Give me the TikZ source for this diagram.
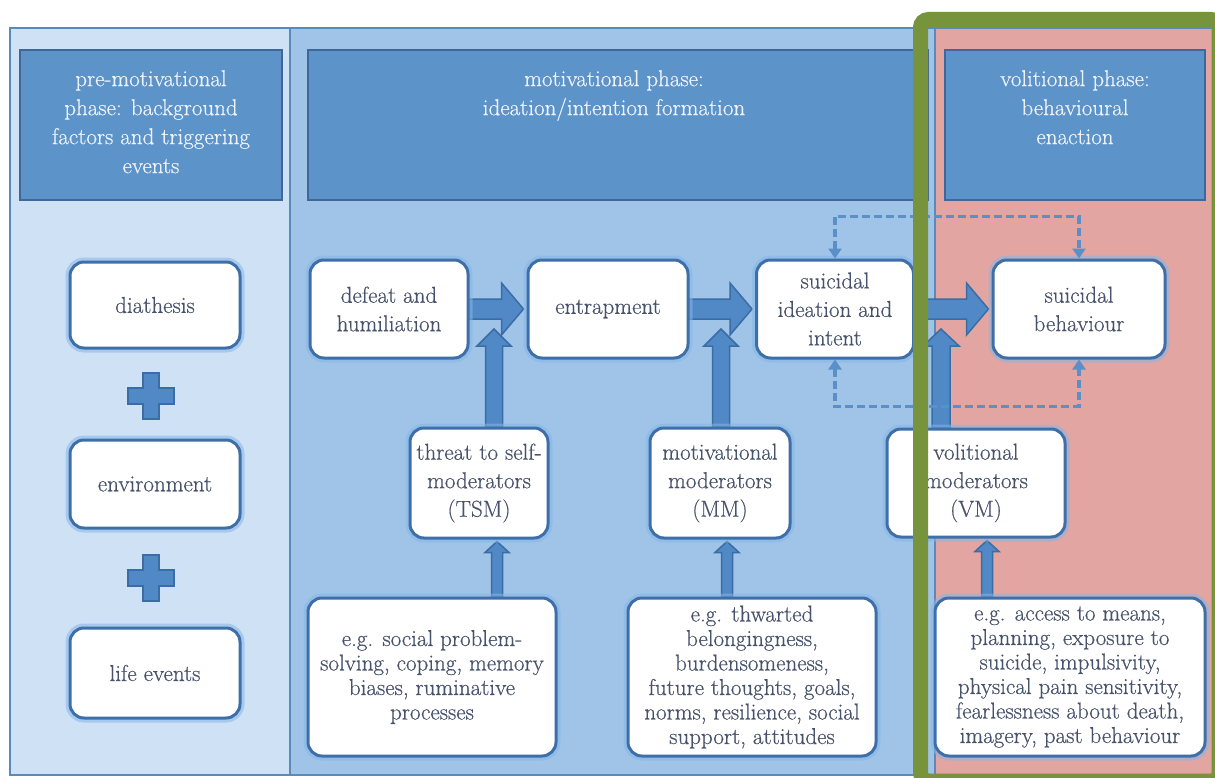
\documentclass[tikz,border=0pt]{standalone}
\usepackage{fontspec}
\newfontfamily\boxfont{Latin Modern Roman}[FakeBold=0.5]
\usetikzlibrary{calc,arrows.meta}
\definecolor{panelL}{HTML}{CFE1F4}
\definecolor{panelM}{HTML}{A0C4E8}
\definecolor{panelR}{HTML}{E3A5A1}
\definecolor{panelBd}{HTML}{5C88BA}
\definecolor{headFill}{HTML}{5C93C9}
\definecolor{headBd}{HTML}{40679A}
\definecolor{headTxt}{HTML}{EEF2F8}
\definecolor{boxBd}{HTML}{3E6FA9}
\definecolor{glow}{HTML}{86B6E8}
\definecolor{boxTxt}{HTML}{47526C}
\definecolor{arrFill}{HTML}{5089C6}
\definecolor{arrBd}{HTML}{3A6CA6}
\definecolor{dashC}{HTML}{5B8FC8}
\definecolor{frameG}{HTML}{77933C}
\pgfdeclarelayer{bg}
\pgfdeclarelayer{arr}
\pgfdeclarelayer{front}
\pgfsetlayers{bg,arr,main,front}
% vertical block arrow: base, tip, half shaft, half head, head length
\newcommand\myVArrow[5]{\draw[barrow] ($(#1)+(-#3,0)$) -- ($(#2)+(-#3,#5)$) -- ($(#2)+(-#4,#5)$) -- (#2) -- ($(#2)+(#4,#5)$) -- ($(#2)+(#3,#5)$) -- ($(#1)+(#3,0)$) -- cycle;}
% horizontal block arrow: source node, target node, half shaft, half head, head length
\newcommand\myHArrow[5]{\draw[barrow] ($(#1.east)+(-4,-#3)$) -- ($(#2.west)+(-#5-3,-#3)$) -- ($(#2.west)+(-#5-3,-#4)$) -- ($(#2.west)+(-3,0)$) -- ($(#2.west)+(-#5-3,#4)$) -- ($(#2.west)+(-#5-3,#3)$) -- ($(#1.east)+(-4,#3)$) -- cycle;}
\begin{document}
\begin{tikzpicture}[x=1pt,y=-1pt,
  panel/.style={draw=panelBd,line width=2},
  header/.style={draw=headBd,fill=headFill,line width=2.5},
  headtext/.style={text=headTxt,align=center,font=\boxfont\fontsize{23}{29}\selectfont,inner sep=0pt,anchor=north},
  box/.style={draw=boxBd,line width=3,fill=white,rounded corners=14,align=center,text=boxTxt,
    font=\boxfont\fontsize{23}{28.5}\selectfont,preaction={draw=glow,line width=9,opacity=.55},inner sep=3pt},
  exbox/.style={box,font=\boxfont\fontsize{23}{24.5}\selectfont},
  barrow/.style={draw=arrBd,fill=arrFill,line width=1.5,line join=miter},
  dashline/.style={draw=dashC,line width=3.5,dash pattern=on 8pt off 4pt,
    {Triangle[length=10pt,width=13pt]}-{Triangle[length=10pt,width=13pt]}},
  plus/.style={draw=arrBd,fill=arrFill,line width=1.5}
]
\useasboundingbox (0,0) rectangle (1215,778);
\clip (0,0) rectangle (1215,778);
\begin{pgfonlayer}{bg}
\fill[white] (0,0) rectangle (1215,778);
\draw[panel,fill=panelL] (10,28) rectangle (290,775);
\draw[panel,fill=panelM] (290,28) rectangle (935,775);
\draw[panel,fill=panelR] (935,28) rectangle (1213,775);
\draw[header] (20,50) rectangle (282,200);
\draw[header] (308,50) rectangle (928,200);
\draw[header] (945,50) rectangle (1205,200);
\end{pgfonlayer}

% header texts
\node[headtext] (hL) at (151,70) {pre-motivational\\phase: background\\factors and triggering\\events};
\node[headtext] (hM) at (614,70) {motivational phase:\\ideation/intention formation};
\node[headtext] (hR) at (1075,70) {volitional phase:\\behavioural\\enaction};

% left column
\node[box,minimum width=170,minimum height=86] (diath) at (155,305) {diathesis};
\node[box,minimum width=170,minimum height=88] (env) at (155,484) {environment};
\node[box,minimum width=170,minimum height=90] (life) at (155,673) {life events};

% main chain
\node[box,minimum width=158,minimum height=98] (defeat) at (389,309) {defeat and\\humiliation};
\node[box,minimum width=160,minimum height=98] (entrap) at (608,309) {entrapment};
\node[box,minimum width=157,minimum height=98] (ideat) at (835,309) {suicidal\\ideation and\\intent};
\node[box,minimum width=172,minimum height=98] (behav) at (1079,309) {suicidal\\behaviour};

% moderators
\node[box,minimum width=138,minimum height=110] (tsm) at (479,483) {threat to self-\\moderators\\(TSM)};
\node[box,minimum width=140,minimum height=110] (mm) at (720,483) {motivational\\moderators\\(MM)};
\node[box,minimum width=178,minimum height=108] (vm) at (976,483) {volitional\\moderators\\(VM)};

% examples
\node[exbox,minimum width=248,minimum height=158] (extsm) at (432,677) {e.g. social problem-\\solving, coping, memory\\biases, ruminative\\processes};
\node[exbox,minimum width=248,minimum height=158] (exmm) at (752,677) {e.g. thwarted\\belongingness,\\burdensomeness,\\future thoughts, goals,\\norms, resilience, social\\support, attitudes};
\node[exbox,minimum width=270,minimum height=158] (exvm) at (1070,677) {e.g. access to means,\\planning, exposure to\\suicide, impulsivity,\\physical pain sensitivity,\\fearlessness about death,\\imagery, past behaviour};

% plus signs
\coordinate (p1) at ($(diath.south)!0.5!(env.north)+(-4,2)$);
\coordinate (p2) at ($(env.south)!0.5!(life.north)+(-4,0)$);
\foreach \p in {p1,p2}{
  \draw[plus] ($(\p)+(-8,-23)$) -- ++(16,0) -- ++(0,15) -- ++(15,0) -- ++(0,16) -- ++(-15,0) -- ++(0,15) -- ++(-16,0) -- ++(0,-15) -- ++(-15,0) -- ++(0,-16) -- ++(15,0) -- cycle;
}

% block arrows
\coordinate (xA) at (494,329);
\coordinate (xB) at (721,329);
\coordinate (xC) at (941,329);
\coordinate (bA) at (xA |- tsm.north);
\coordinate (bB) at (xB |- mm.north);
\coordinate (bC) at (xC |- vm.north);
\coordinate (sA) at (497,0);
\coordinate (sB) at (727,0);
\coordinate (sC) at (987,0);
\coordinate (sAt) at ($(sA |- tsm.south)+(0,2)$);
\coordinate (sAb) at (sA |- extsm.north);
\coordinate (sBt) at ($(sB |- mm.south)+(0,2)$);
\coordinate (sBb) at (sB |- exmm.north);
\coordinate (sCt) at ($(sC |- vm.south)+(0,2)$);
\coordinate (sCb) at (sC |- exvm.north);
\begin{pgfonlayer}{arr}
\myHArrow{defeat}{entrap}{10}{26}{22}
\myHArrow{entrap}{ideat}{10}{26}{22}
\myHArrow{ideat}{behav}{10}{26}{22}
\myVArrow{bA}{xA}{8.5}{17}{17}
\myVArrow{bB}{xB}{8.5}{17}{17}
\myVArrow{bC}{xC}{9}{18}{17}
\myVArrow{sAb}{sAt}{5.5}{12}{11}
\myVArrow{sBb}{sBt}{5.5}{12}{11}
\myVArrow{sCb}{sCt}{5.5}{12}{11}
\end{pgfonlayer}

\begin{pgfonlayer}{front}
\draw[dashline] (ideat.north) -- ++(0,-42) -| (behav.north);
\draw[dashline] (ideat.south) -- ++(0,47) -| (behav.south);
\draw[frameG,line width=15,rounded corners=8] (920.5,19.5) rectangle (1219,781);
\end{pgfonlayer}
\end{tikzpicture}
\end{document}
